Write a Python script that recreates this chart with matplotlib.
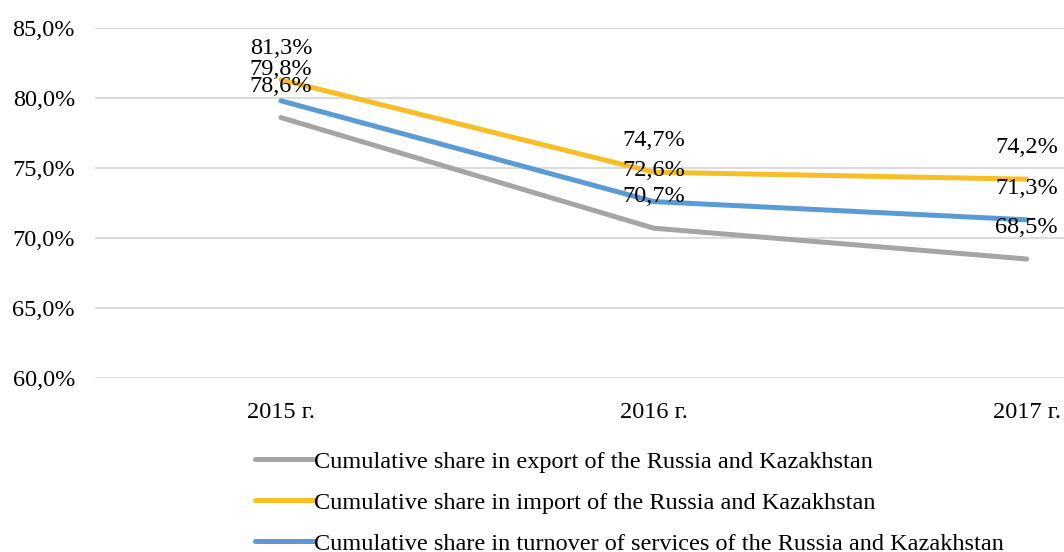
import matplotlib.pyplot as plt
import numpy as np

plt.rcParams['font.family'] = ['Liberation Serif', 'DejaVu Serif']

years = ["2015 г.", "2016 г.", "2017 г."]
export_share = [78.6, 70.7, 68.5]
import_share = [81.3, 74.7, 74.2]
turnover_share = [79.8, 72.6, 71.3]

series_names = [
    "Cumulative share in export of the Russia and Kazakhstan",
    "Cumulative share in import of the Russia and Kazakhstan",
    "Cumulative share in turnover of services of the Russia and Kazakhstan",
]
colors = ["#A5A5A5", "#F7BE28", "#5B9BD5"]

fs = 17.5

fig = plt.figure(figsize=(10.64, 5.52), dpi=100)
ax = fig.add_axes([94.5 / 1064, 1 - 378 / 552, 1 - 94.5 / 1064, 350 / 552])

x = np.arange(len(years))
lines = []
for vals, name, c in zip([export_share, import_share, turnover_share], series_names, colors):
    ln, = ax.plot(x, vals, color=c, lw=3.6, solid_capstyle='round', label=name, zorder=3)
    lines.append(ln)
    for xi, v in zip(x, vals):
        ax.annotate(f"{v:.1f}%".replace(".", ","), (xi, v), xytext=(0, 22.5),
                    textcoords='offset points', ha='center', va='center',
                    fontsize=fs, color='black', zorder=4)

ax.set_xlim(-0.5, 2.1)
ax.set_ylim(60, 85)
ax.set_yticks(np.arange(60, 86, 5))
ax.set_yticklabels([f"{t:.1f}%".replace(".", ",") for t in np.arange(60, 86, 5)])
ax.set_xticks(x)
ax.set_xticklabels(years)
ax.tick_params(axis='both', length=0, labelsize=fs)
ax.tick_params(axis='x', pad=17)
ax.tick_params(axis='y', pad=14)
ax.grid(axis='y', color='#D9D9D9', lw=1.3)
ax.set_axisbelow(True)
for s in ax.spines.values():
    s.set_visible(False)

fig.legend(handles=lines, loc='upper left', bbox_to_anchor=(245 / 1064, 1 - 441 / 552),
           frameon=False, fontsize=fs, handlelength=2.45, handletextpad=0.0,
           labelspacing=0.78, borderaxespad=0)

fig.savefig("out.png", dpi=100)
